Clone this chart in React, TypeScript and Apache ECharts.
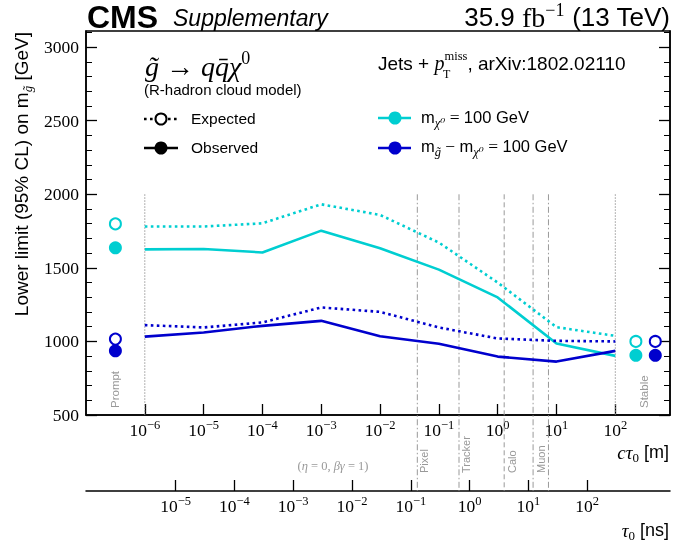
import React, { useEffect, useRef } from "react";
import * as echarts from "echarts";

// cτ0 [m] values at which the limits were evaluated
const ctau = [1e-6, 1e-5, 1e-4, 1e-3, 1e-2, 1e-1, 1, 10, 100];
// m_χ0 = 100 GeV (cyan)
const cyanExpected = [1781, 1781, 1803, 1932, 1860, 1672, 1400, 1097, 1038];
const cyanObserved = [1626, 1628, 1605, 1753, 1633, 1488, 1299, 986, 902];
// m_g̃ − m_χ0 = 100 GeV (blue)
const blueExpected = [1111, 1095, 1129, 1231, 1201, 1095, 1020, 1004, 1000];
const blueObserved = [1033, 1061, 1106, 1140, 1035, 984, 897, 863, 936];
// prompt and stable limits: [cyan, blue]
const promptCtau = [10 ** -6.5, 10 ** -6.5];
const promptExpected = [1799, 1016];
const promptObserved = [1636, 936];
const stableCtau = [10 ** 2.35, 10 ** 2.68];
const stableExpected = [1000, 1000];
const stableObserved = [906, 906];
// axes
const ctauExponents = [-6, -5, -4, -3, -2, -1, 0, 1, 2];
const tauExponents = [-5, -4, -3, -2, -1, 0, 1, 2];
const yMajor = [500, 1000, 1500, 2000, 2500, 3000];
const yMinor = [600, 700, 800, 900, 1100, 1200, 1300, 1400, 1600, 1700, 1800, 1900, 2100, 2200, 2300, 2400, 2600, 2700, 2800, 2900, 3100];
// detector boundaries [m] and names
const detectorBoundaries = [0.043, 0.22, 1.29, 4.0, 7.3];
const detectorNames = ["Pixel", "Tracker", "Calo", "Muon"];
const regionTop = 2000;
const regionEdges = [1e-6, 100];

const LOG_C = Math.log10(1 / 3); // τ0 [ns] → cτ0 [m]

const CYAN = "#00CED1";
const BLUE = "#0000CD";
const GRAY = "#999999";
const SERIF = "'Liberation Serif', 'DejaVu Serif', serif";
const SANS = "'Liberation Sans', Arial, sans-serif";

const sup = (n: number) => (n < 0 ? "\u2212" + -n : String(n));

export default function App() {
  const ref = useRef<HTMLDivElement>(null);
  useEffect(() => {
    const chart = echarts.init(ref.current!, null, { renderer: "svg" });
    const lineSeries = (vals: number[], color: string, dotted: boolean) => ({
      type: "line",
      data: ctau.map((c, i) => [Math.log10(c), vals[i]]),
      symbol: "none",
      silent: true,
      z: 3,
      lineStyle: { color, width: 2.6, type: dotted ? [2.6, 3.4] : "solid", cap: "butt", opacity: 1 },
    });
    const pts = (xs: number[], ys: number[], idx: number, color: string, open: boolean) => ({
      type: "scatter",
      data: [[Math.log10(xs[idx]), ys[idx]]],
      symbol: "circle",
      symbolSize: open ? 11 : 13,
      silent: true,
      z: 4,
      itemStyle: open
        ? { color: "#fff", borderColor: color, borderWidth: 2, opacity: 1 }
        : { color, borderWidth: 0, opacity: 1 },
    });
    const xLabelRich = {
      b: { fontFamily: SERIF, fontSize: 17.5, color: "#000", lineHeight: 24, verticalAlign: "middle" },
      s: { fontFamily: SERIF, fontSize: 12.5, color: "#000", verticalAlign: "top" },
    };
    const yAxisBase = {
      type: "value",
      min: 500,
      max: 3110,
      splitLine: { show: false },
    };
    const option: any = {
      animation: false,
      grid: { left: 86, right: 3, top: 31, bottom: 132, show: true, borderColor: "#000", borderWidth: 1.5, backgroundColor: "transparent" },
      xAxis: [
        {
          type: "value",
          min: -7,
          max: 2.93,
          position: "bottom",
          axisLine: { show: true, onZero: false, lineStyle: { color: "#000", width: 1.5 } },
          axisTick: { show: true, inside: true, length: 11, customValues: ctauExponents, lineStyle: { color: "#000", width: 1.3 } },
          axisLabel: {
            customValues: ctauExponents,
            margin: 3,
            formatter: (v: number) => `{b|10}{s|${sup(Math.round(v))}}`,
            rich: xLabelRich,
          },
          splitLine: { show: false },
        },
        {
          type: "value",
          min: -7,
          max: 2.93,
          position: "bottom",
          offset: 76,
          axisLine: { show: true, onZero: false, lineStyle: { color: "#000", width: 1.5 } },
          axisTick: { show: true, inside: true, length: 11, customValues: tauExponents.map((n) => n + LOG_C), lineStyle: { color: "#000", width: 1.3 } },
          axisLabel: {
            customValues: tauExponents.map((n) => n + LOG_C),
            margin: 3,
            formatter: (v: number) => `{b|10}{s|${sup(Math.round(v - LOG_C))}}`,
            rich: xLabelRich,
          },
          splitLine: { show: false },
        },
      ],
      yAxis: [
        {
          ...yAxisBase,
          position: "left",
          axisLine: { show: true, onZero: false, lineStyle: { color: "#000", width: 1.5 } },
          axisTick: { show: true, inside: true, length: 11, customValues: yMajor, lineStyle: { color: "#000", width: 1.3 } },
          axisLabel: { customValues: yMajor, margin: 7, fontFamily: SERIF, fontSize: 17.5, color: "#000", formatter: (v: number) => String(v) },
        },
        {
          ...yAxisBase,
          position: "left",
          axisLine: { show: false, onZero: false },
          axisTick: { show: true, inside: true, length: 6, customValues: yMinor, lineStyle: { color: "#000", width: 1 } },
          axisLabel: { show: false },
        },
        {
          ...yAxisBase,
          position: "right",
          axisLine: { show: true, onZero: false, lineStyle: { color: "#000", width: 1.5 } },
          axisTick: { show: true, inside: true, length: 11, customValues: yMajor, lineStyle: { color: "#000", width: 1.3 } },
          axisLabel: { show: false },
        },
        {
          ...yAxisBase,
          position: "right",
          axisLine: { show: false, onZero: false },
          axisTick: { show: true, inside: true, length: 6, customValues: yMinor, lineStyle: { color: "#000", width: 1 } },
          axisLabel: { show: false },
        },
      ],
      series: [
        lineSeries(cyanExpected, CYAN, true),
        lineSeries(cyanObserved, CYAN, false),
        lineSeries(blueExpected, BLUE, true),
        lineSeries(blueObserved, BLUE, false),
        pts(promptCtau, promptExpected, 0, CYAN, true),
        pts(promptCtau, promptObserved, 0, CYAN, false),
        pts(promptCtau, promptExpected, 1, BLUE, true),
        pts(promptCtau, promptObserved, 1, BLUE, false),
        pts(stableCtau, stableExpected, 0, CYAN, true),
        pts(stableCtau, stableObserved, 0, CYAN, false),
        pts(stableCtau, stableExpected, 1, BLUE, true),
        pts(stableCtau, stableObserved, 1, BLUE, false),
      ],
    };
    chart.setOption(option);

    const px = (c: number) => chart.convertToPixel({ xAxisIndex: 0 }, Math.log10(c)) as number;
    const py = (v: number) => chart.convertToPixel({ yAxisIndex: 0 }, v) as number;
    const yTop = py(regionTop);
    const yAxisPx = py(500);
    const y2Axis = yAxisPx + 76;

    const els: any[] = [];
    // prompt / stable boundaries
    regionEdges.forEach((c) => {
      const x = px(c);
      els.push({ type: "line", z: 1, shape: { x1: x, y1: yTop, x2: x, y2: yAxisPx }, style: { stroke: GRAY, lineWidth: 1, lineDash: [1.5, 1.5] } });
    });
    // detector boundaries
    detectorBoundaries.forEach((c, i) => {
      const x = px(c);
      els.push({ type: "line", z: 1, shape: { x1: x, y1: yTop, x2: x, y2: y2Axis }, style: { stroke: GRAY, lineWidth: 1, lineDash: i === 2 ? [5, 3] : [6, 2.5, 1.5, 2.5] } });
    });
    const detLabelX = [
      px(detectorBoundaries[0]) + 7,
      px(detectorBoundaries[1]) + 7,
      px(detectorBoundaries[2]) + 7.5,
      (px(detectorBoundaries[3]) + px(detectorBoundaries[4])) / 2,
    ];
    detectorNames.forEach((n, i) => {
      els.push({ type: "text", x: detLabelX[i], y: yAxisPx + 58, rotation: Math.PI / 2, style: { text: n, font: `11px ${SANS}`, fill: GRAY, align: "left", verticalAlign: "middle" } });
    });
    els.push({ type: "text", x: px(promptCtau[0]), y: yAxisPx - 7, rotation: Math.PI / 2, style: { text: "Prompt", font: `11.5px ${SANS}`, fill: GRAY, align: "left", verticalAlign: "middle" } });
    els.push({ type: "text", x: px(10 ** 2.48), y: yAxisPx - 7, rotation: Math.PI / 2, style: { text: "Stable", font: `11.5px ${SANS}`, fill: GRAY, align: "left", verticalAlign: "middle" } });
    // (η = 0, βγ = 1)
    els.push({
      type: "text", x: 333, y: 466,
      style: {
        text: "{r|(}{i|η}{r| = 0, }{i|βγ}{r| = 1)}", align: "center", verticalAlign: "middle",
        rich: { r: { fontFamily: SERIF, fontSize: 12.5, fill: GRAY, color: GRAY }, i: { fontFamily: SERIF, fontStyle: "italic", fontSize: 12.5, fill: GRAY, color: GRAY } },
      },
    });
    // axis names
    const nameRich = {
      i: { fontFamily: SERIF, fontStyle: "italic", fontSize: 19, lineHeight: 24, verticalAlign: "middle" },
      s: { fontFamily: SERIF, fontSize: 13, verticalAlign: "bottom" },
      a: { fontFamily: SANS, fontSize: 18, lineHeight: 24, verticalAlign: "middle" },
    };
    els.push({ type: "text", x: 669, y: 452, style: { text: "{i|cτ}{s|0}{a| [m]}", align: "right", verticalAlign: "middle", rich: nameRich } });
    els.push({ type: "text", x: 669, y: 530, style: { text: "{i|τ}{s|0}{a| [ns]}", align: "right", verticalAlign: "middle", rich: nameRich } });
    els.push({
      type: "text", x: 21, y: 32, rotation: Math.PI / 2,
      style: {
        text: "{a|Lower limit (95% CL) on m}{s|g̃}{a| [GeV]}", align: "right", verticalAlign: "middle",
        rich: {
          a: { fontFamily: SANS, fontSize: 19, lineHeight: 26, verticalAlign: "middle" },
          s: { fontFamily: SERIF, fontStyle: "italic", fontSize: 13, verticalAlign: "bottom" },
        },
      },
    });
    // header
    els.push({ type: "text", x: 87, y: 16.5, style: { text: "CMS", font: `bold 32px ${SANS}`, fill: "#000", align: "left", verticalAlign: "middle" } });
    els.push({ type: "text", x: 173, y: 18, style: { text: "Supplementary", font: `italic 23px ${SANS}`, fill: "#000", align: "left", verticalAlign: "middle" } });
    els.push({
      type: "text", x: 670, y: 17,
      style: {
        text: "{a|35.9 }{f|fb}{s|\u22121}{a| (13 TeV)}", align: "right", verticalAlign: "middle",
        rich: {
          a: { fontFamily: SANS, fontSize: 26, lineHeight: 32, verticalAlign: "middle" },
          f: { fontFamily: SERIF, fontSize: 28, lineHeight: 32, verticalAlign: "middle" },
          s: { fontFamily: SERIF, fontSize: 18, verticalAlign: "top" },
        },
      },
    });
    // legend, left
    els.push({
      type: "text", x: 145, y: 66,
      style: {
        text: "{i|g̃}{r| → }{i|qq̄χ}{s|0}", align: "left", verticalAlign: "middle",
        rich: {
          i: { fontFamily: SERIF, fontStyle: "italic", fontSize: 28, lineHeight: 34, verticalAlign: "middle" },
          r: { fontFamily: SERIF, fontSize: 28, lineHeight: 34, verticalAlign: "middle" },
          s: { fontFamily: SERIF, fontSize: 18, verticalAlign: "top" },
        },
      },
    });
    els.push({ type: "text", x: 144, y: 89, style: { text: "(R-hadron cloud model)", font: `15px ${SANS}`, fill: "#000", align: "left", verticalAlign: "middle" } });
    els.push({ type: "line", shape: { x1: 144, y1: 119, x2: 178, y2: 119 }, style: { stroke: "#000", lineWidth: 2.6, lineDash: [2.6, 3.4] } });
    els.push({ type: "circle", shape: { cx: 161, cy: 119, r: 5.5 }, style: { fill: "#fff", stroke: "#000", lineWidth: 2 } });
    els.push({ type: "text", x: 191, y: 118, style: { text: "Expected", font: `15.5px ${SANS}`, fill: "#000", align: "left", verticalAlign: "middle" } });
    els.push({ type: "line", shape: { x1: 144, y1: 148, x2: 178, y2: 148 }, style: { stroke: "#000", lineWidth: 2.6 } });
    els.push({ type: "circle", shape: { cx: 161, cy: 148, r: 6.5 }, style: { fill: "#000" } });
    els.push({ type: "text", x: 191, y: 147, style: { text: "Observed", font: `15.5px ${SANS}`, fill: "#000", align: "left", verticalAlign: "middle" } });
    // legend, right
    els.push({
      type: "text", x: 378, y: 63,
      style: {
        text: "{a|Jets + }{i|p}{s|miss}{a|, arXiv:1802.02110}", align: "left", verticalAlign: "middle",
        rich: {
          a: { fontFamily: SANS, fontSize: 19, lineHeight: 28, verticalAlign: "middle" },
          i: { fontFamily: SERIF, fontStyle: "italic", fontSize: 20, lineHeight: 28, verticalAlign: "middle" },
          s: { fontFamily: SERIF, fontSize: 12.5, verticalAlign: "top" },
        },
      },
    });
    els.push({ type: "text", x: 443, y: 74, style: { text: "T", font: `12px ${SERIF}`, fill: "#000", align: "left", verticalAlign: "middle" } });
    const mRich = {
      a: { fontFamily: SANS, fontSize: 16.5, lineHeight: 24, verticalAlign: "middle" },
      e: { fontFamily: SERIF, fontSize: 17.5, lineHeight: 24, verticalAlign: "middle" },
      s: { fontFamily: SERIF, fontStyle: "italic", fontSize: 12.5, verticalAlign: "bottom" },
    };
    els.push({ type: "line", shape: { x1: 378, y1: 118, x2: 411, y2: 118 }, style: { stroke: CYAN, lineWidth: 2.6 } });
    els.push({ type: "circle", shape: { cx: 395, cy: 118, r: 6.5 }, style: { fill: CYAN } });
    els.push({ type: "text", x: 421, y: 117, style: { text: "{a|m}{s|χ⁰}{e| = }{a|100 GeV}", align: "left", verticalAlign: "middle", rich: mRich } });
    els.push({ type: "line", shape: { x1: 378, y1: 148, x2: 411, y2: 148 }, style: { stroke: BLUE, lineWidth: 2.6 } });
    els.push({ type: "circle", shape: { cx: 395, cy: 148, r: 6.5 }, style: { fill: BLUE } });
    els.push({ type: "text", x: 421, y: 146, style: { text: "{a|m}{s|g̃}{e| − }{a|m}{s|χ⁰}{e| = }{a|100 GeV}", align: "left", verticalAlign: "middle", rich: mRich } });

    chart.setOption({ graphic: { elements: els } });
    return () => chart.dispose();
  }, []);
  return <div ref={ref} style={{ position: "fixed", left: 0, top: 0, width: 673, height: 547 }} />;
}
